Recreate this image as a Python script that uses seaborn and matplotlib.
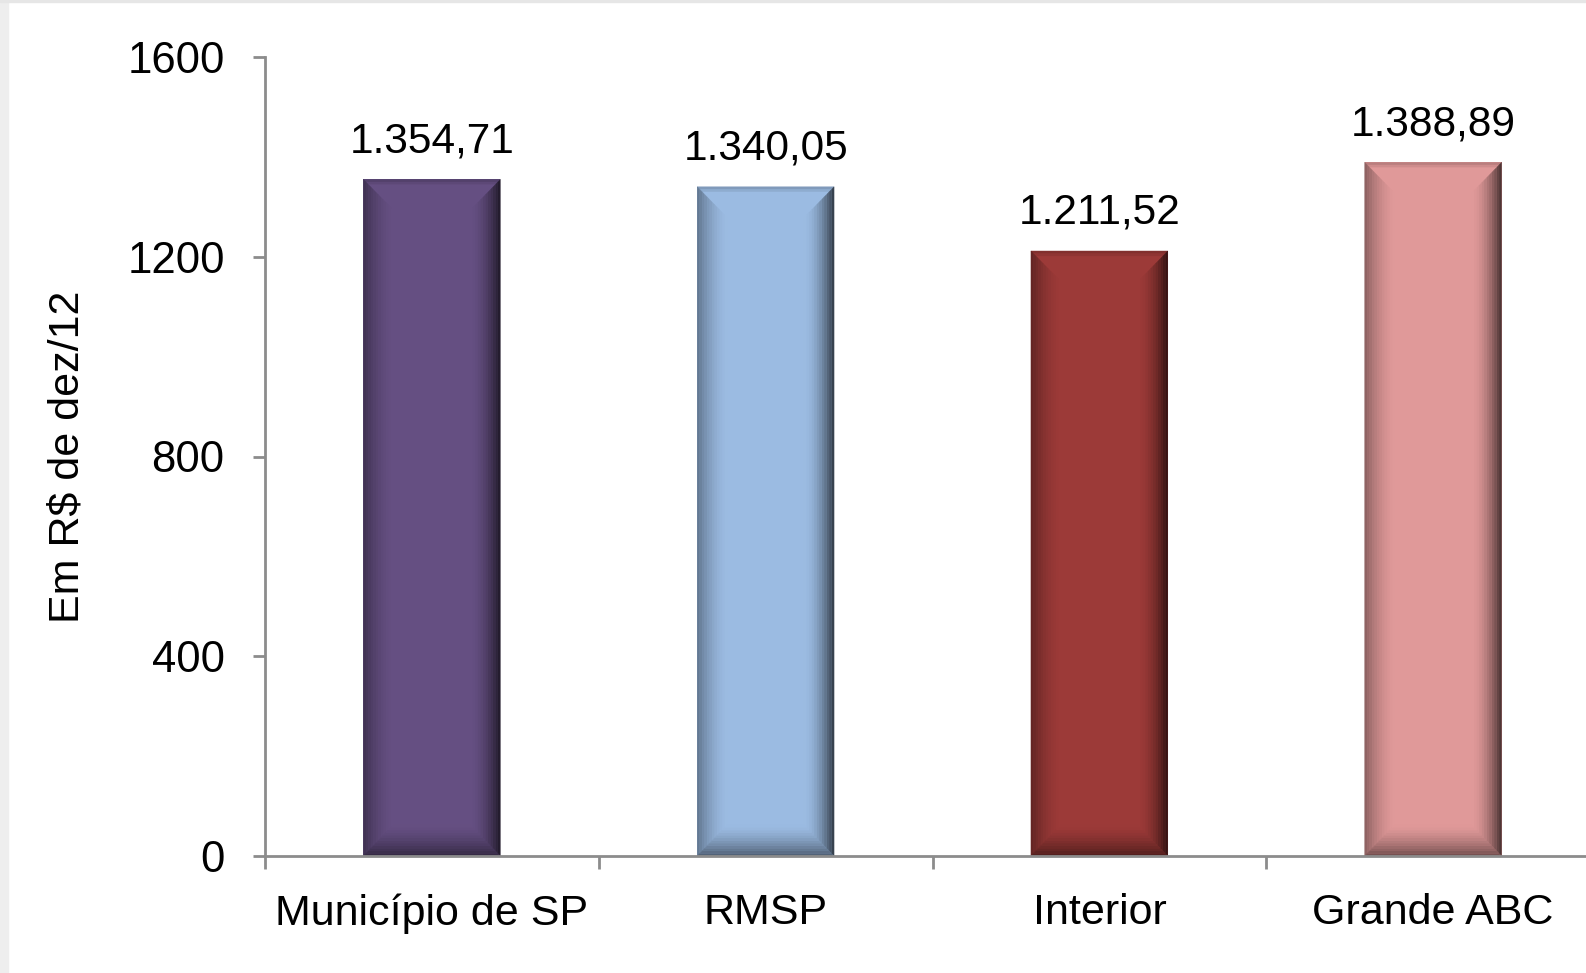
import matplotlib
matplotlib.use('Agg')
import matplotlib.pyplot as plt
from matplotlib.patches import Rectangle, Polygon
import seaborn as sns
import pandas as pd

sns.set_style('white')
plt.rcParams['font.family'] = ['Liberation Sans', 'DejaVu Sans']
plt.rcParams['text.color'] = 'black'
plt.rcParams['xtick.color'] = 'black'
plt.rcParams['ytick.color'] = 'black'
plt.rcParams['axes.labelcolor'] = 'black'

regioes = ['Município de SP', 'RMSP', 'Interior', 'Grande ABC']
valores = [1354.71, 1340.05, 1211.52, 1388.89]
cores = ['#654f82', '#9bbbe2', '#9c3a38', '#e09999']
y_ticks = [0, 400, 800, 1200, 1600]


def fmt_br(v):
    # 1354.71 -> 1.354,71
    return '{:,.2f}'.format(v).replace(',', 'X').replace('.', ',').replace('X', '.')


def shade(c, f):
    r, g, b = matplotlib.colors.to_rgb(c)
    return tuple(min(1, x * f) for x in (r, g, b))


df = pd.DataFrame({'regiao': regioes, 'valor': valores})

fig = plt.figure(figsize=(15.86, 9.73), dpi=100)
ax = fig.add_axes([265 / 1586, 1 - 856 / 973, 1 - 265 / 1586, (856 - 57) / 973])

sns.barplot(data=df, x='regiao', y='valor', hue='regiao', palette=cores,
            width=0.41, saturation=1, legend=False, ax=ax)

# bevel look on each bar (gradient facets), built from the bar geometry
bx, by, n = 0.09, 62, 12
for patch, c in zip(list(ax.patches), cores):
    x0, w, h = patch.get_x(), patch.get_width(), patch.get_height()
    x1 = x0 + w
    z = patch.get_zorder() + 0.1
    patch.set_edgecolor('none')
    for k in range(n):
        a, b = k / n, (k + 1) / n
        t = (a + b) / 2
        facets = [
            # top: only a thin darker rim
            ([(x0 + a * bx, h - a * by), (x1 - a * bx, h - a * by),
              (x1 - b * bx, h - b * by), (x0 + b * bx, h - b * by)],
             1 - 0.22 * max(0, 1 - t * 5)),
            # left
            ([(x0 + a * bx, a * by), (x0 + a * bx, h - a * by),
              (x0 + b * bx, h - b * by), (x0 + b * bx, b * by)],
             1 - 0.38 * (1 - t) ** 1.6),
            # right
            ([(x1 - a * bx, a * by), (x1 - a * bx, h - a * by),
              (x1 - b * bx, h - b * by), (x1 - b * bx, b * by)],
             1 - 0.7 * (1 - t) ** 1.8),
            # bottom
            ([(x0 + a * bx, a * by), (x1 - a * bx, a * by),
              (x1 - b * bx, b * by), (x0 + b * bx, b * by)],
             1 - 0.5 * (1 - t) ** 1.5),
        ]
        for pts, f in facets:
            ax.add_patch(Polygon(pts, closed=True, facecolor=shade(c, f),
                                 edgecolor=shade(c, f), linewidth=0.3, zorder=z))

for cont in ax.containers:
    ax.bar_label(cont, labels=[fmt_br(v) for v in cont.datavalues],
                 padding=13, fontsize=30.5)

ax.set_ylim(0, 1600)
ax.set_xlim(-0.5, 3.458)
ax.set_yticks(y_ticks)
ax.set_yticklabels([str(t) for t in y_ticks], fontsize=31.5)
ax.set_xticks(range(len(regioes)))
ax.set_xticklabels(regioes, fontsize=31)
ax.set_xticks([-0.5, 0.5, 1.5, 2.5], minor=True)

ax.tick_params(axis='y', which='major', length=9, width=2, color='#8c8c8c', pad=20, left=True)
ax.tick_params(axis='x', which='major', length=0, pad=27)
ax.tick_params(axis='x', which='minor', length=9, width=2, color='#8c8c8c', bottom=True)

ax.set_xlabel('')
ax.set_ylabel('Em R$ de dez/12', fontsize=31)
ax.yaxis.set_label_coords(-0.134, 0.5)

for side in ['top', 'right']:
    ax.spines[side].set_visible(False)
for side in ['left', 'bottom']:
    ax.spines[side].set_color('#8c8c8c')
    ax.spines[side].set_linewidth(2)
    ax.spines[side].set_zorder(5)

# light grey frame of the slide
fig.patches.append(Rectangle((0, 0), 8 / 1586, 1, transform=fig.transFigure,
                             color='#eeeeee', zorder=-1))
fig.patches.append(Rectangle((0, 1 - 2 / 973), 1, 2 / 973, transform=fig.transFigure,
                             color='#e6e6e6', zorder=-1))

fig.savefig('out.png', dpi=100)
